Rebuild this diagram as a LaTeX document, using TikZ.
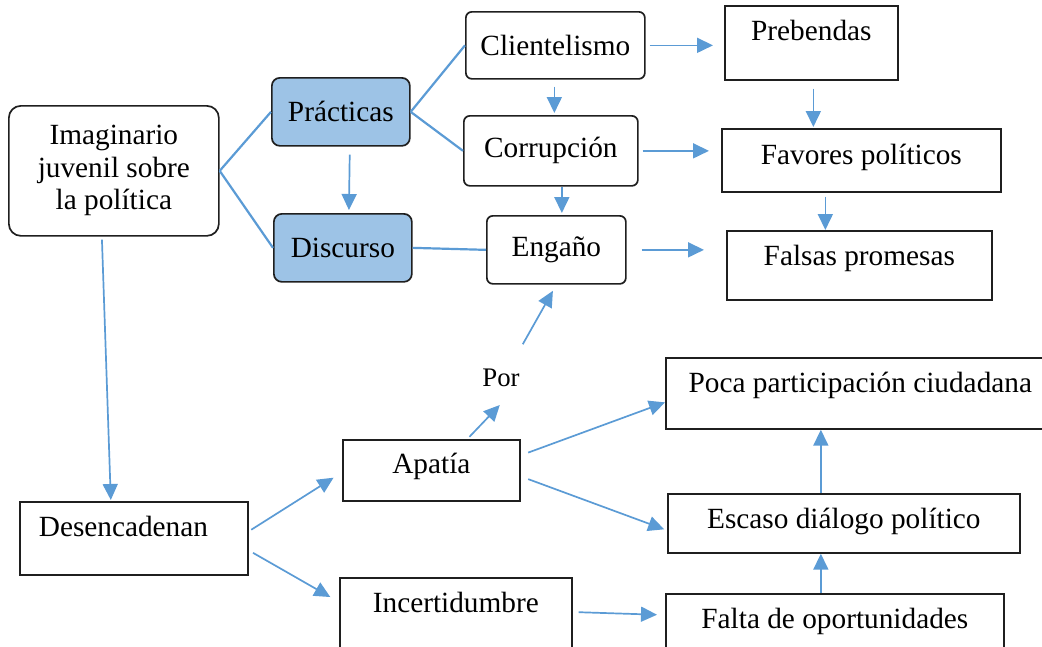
\documentclass[tikz,border=0pt]{standalone}
\usepackage{fontspec}
\setmainfont{Liberation Serif}
\usepackage{xcolor}
\usepackage{tikz}
\usetikzlibrary{
    positioning,
    arrows.meta,
    calc
}
\definecolor{linkblue}{HTML}{5B9BD5}
\definecolor{boxblue}{HTML}{9DC3E6}
\definecolor{edgegray}{HTML}{1F1F1F}
\tikzset{
    roundbox/.style={
        rectangle, draw=edgegray, line width=1.7pt,
        rounded corners=8pt, inner sep=0pt,
        align=center, anchor=north west
    },
    keybox/.style={
        roundbox, fill=boxblue
    },
    plainbox/.style={
        rectangle, draw=edgegray, line width=1.7pt,
        inner sep=0pt, align=center, anchor=north west
    },
    link/.style={
        line width=2.2pt, draw=linkblue
    },
    arrow/.style={
        -{Triangle[length=16pt,width=15pt]}, line width=1.7pt, draw=linkblue
    }
}

\begin{document}
\begin{tikzpicture}[
    x=1pt, y=-1pt,
    every node/.style={font=\fontsize{29.3}{32.5}\selectfont},
    toptext/.style 2 args={text height=#1pt, text depth=#2pt},
    small_label/.style={font=\fontsize{26.8}{30}\selectfont, inner sep=2pt}
  ]
    \useasboundingbox (0,0) rectangle (1042,646);

    % upper branch
    \node[roundbox, rounded corners=12pt, minimum width=210pt, minimum height=130pt] (imag) at (8,105) {Imaginario\\juvenil sobre\\la política};
    \node[keybox, minimum width=138pt, minimum height=68pt] (prac) at (271,77) {Prácticas};
    \node[keybox, minimum width=138pt, minimum height=68pt] (disc) at (273,213) {Discurso};
    \node[roundbox, rounded corners=6pt, minimum width=179pt, minimum height=67pt] (clie) at (465,11) {Clientelismo};
    \node[roundbox, rounded corners=6pt, minimum width=174pt, minimum height=70pt] (corr) at (463,115) {Corrupción};
    \node[roundbox, rounded corners=6pt, minimum width=139pt, minimum height=68pt] (enga) at (486,215) {Engaño};
    \node[plainbox, minimum width=173pt, toptext={35}{39}] (preb) at (724,5) {Prebendas};
    \node[plainbox, minimum width=279pt, toptext={36}{27}] (favo) at (721,128) {Favores políticos};
    \node[plainbox, minimum width=265pt, toptext={35}{34}] (fals) at (726,230) {Falsas promesas};

    % lower branch
    \node[plainbox, align=left, text width=190pt, inner xsep=19pt, toptext={35}{38}] (desc) at (19,501) {Desencadenan};
    \node[plainbox, minimum width=177pt, toptext={34}{27}] (apat) at (342,439) {Apatía};
    \node[plainbox, minimum width=232pt, toptext={35}{48}] (ince) at (339,577) {Incertidumbre};
    \node[small_label] (por) at (501,378) {Por};
    \node[plainbox, minimum width=389pt, toptext={35}{36}] (poca) at (665,357) {Poca participación ciudadana};
    \node[plainbox, minimum width=352pt, toptext={35}{24}] (esca) at (667,493) {Escaso diálogo político};
    \node[plainbox, minimum width=338pt, toptext={35}{32}] (falt) at (665,593) {Falta de oportunidades};

    \draw[link] (imag.east) -- (prac.west);
    \draw[link] (imag.east) -- (disc.west);
    \draw[link] (prac.east) -- (clie.west);
    \draw[link] (prac.east) -- (corr.west);
    \draw[link] (disc.east) -- (enga.west);

    \draw[arrow, shorten <=8pt, shorten >=3pt] ([xshift=9pt]prac.south) -- ([xshift=6pt]disc.north);
    \draw[arrow, shorten <=7pt, shorten >=2pt] ([xshift=-1pt]clie.south) -- ([xshift=-1pt]clie.south |- corr.north);
    \draw[arrow, shorten >=2pt] ([xshift=11pt]corr.south) -- ([xshift=11pt]corr.south |- enga.north);
    \draw[arrow, shorten <=4pt, shorten >=11pt] (clie.east) -- (clie.east -| preb.west);
    \draw[arrow, shorten <=4pt, shorten >=12pt] (corr.east) -- (corr.east -| favo.west);
    \draw[arrow, shorten <=15pt, shorten >=22pt] (enga.east) -- (enga.east -| fals.west);
    \draw[arrow, shorten <=8pt, shorten >=1pt] ([xshift=2pt]preb.south) -- ([xshift=2pt]preb.south |- favo.north);
    \draw[arrow, shorten <=4pt] ([xshift=-36pt]favo.south) -- ([xshift=-36pt]favo.south |- fals.north);

    \draw[arrow, shorten <=3pt, shorten >=1pt] ([xshift=-12pt]imag.south) -- ([xshift=-23pt]desc.north);
    \draw[arrow, shorten <=3pt, shorten >=10pt] ([yshift=7pt]desc.east) -- ([yshift=-2pt]apat.west);
    \draw[arrow, shorten <=5pt, shorten >=10pt] ([yshift=-12pt]desc.east) -- ([yshift=-25pt]ince.north west);
    \draw[arrow, shorten <=3pt, shorten >=22pt] ([xshift=36pt]apat.north) -- ([xshift=14pt]por.south);
    \draw[arrow, shorten <=26pt, shorten >=7pt] ([xshift=9pt]por.north) -- (enga.south);
    \draw[arrow, shorten <=8pt] ([yshift=15pt]apat.east) -- ([yshift=-9pt]poca.west);
    \draw[arrow, shorten <=8pt, shorten >=3pt] ([yshift=-6pt]apat.east) -- ([yshift=-7pt]esca.west);
    \draw[arrow] ([xshift=-23pt]esca.north) -- ([xshift=-23pt]esca.north |- poca.south);
    \draw[arrow] ([xshift=-14pt]falt.north) -- ([xshift=-14pt]falt.north |- esca.south);
    \draw[arrow, shorten <=6pt, shorten >=8pt] ([yshift=-35pt]ince.north east) -- ([yshift=-22pt]falt.north west);

\end{tikzpicture}
\end{document}
